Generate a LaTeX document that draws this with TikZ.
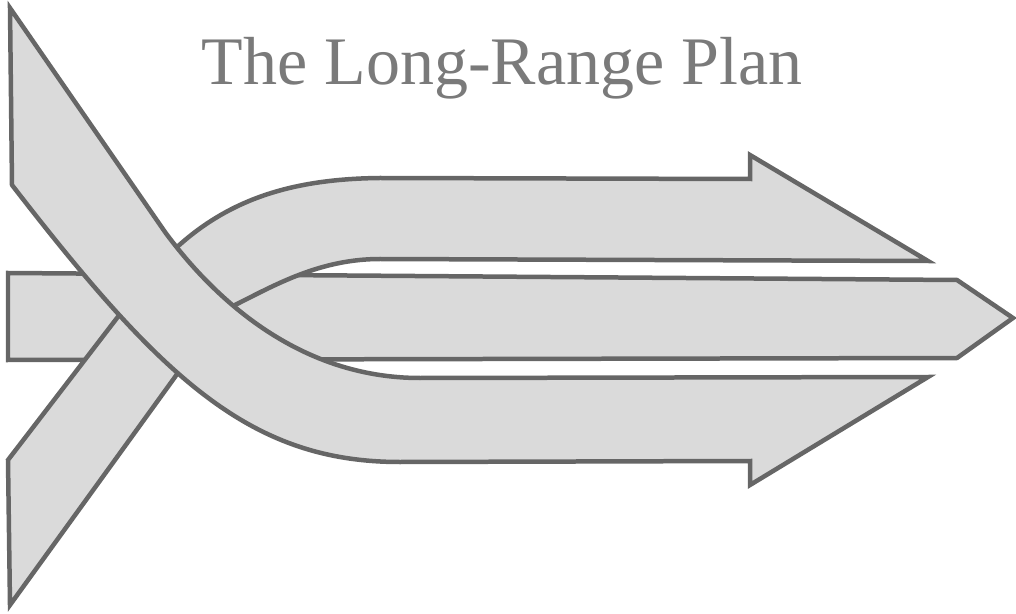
\documentclass[tikz,border=0pt]{standalone}
\usepackage{fontspec}
\setmainfont{Liberation Serif}
\definecolor{bandfill}{HTML}{DADADA}
\definecolor{bandline}{HTML}{666666}
\definecolor{titlegray}{HTML}{7A7A7A}
\begin{document}
\begin{tikzpicture}[x=0.02cm, y=-0.02cm,
        band/.style={fill=bandfill, draw=bandline, line width=0.09cm, line join=miter}]
        \useasboundingbox (0,0) rectangle (1016,614);

        % 标题
        \node[anchor=base, text=titlegray, inner sep=0pt,
              font=\fontsize{38.7}{40}\selectfont] (title) at (502,85) {The Long-Range Plan};

        % 中间的箭头
        \draw[band] (8,273) -- (957,280) -- (1013,318) -- (957,358) -- (8,360) -- cycle;

        % 上面的箭头 (从左下方来)
        \draw[band] (10,605) -- (175,377) .. controls (200,340) and (215,315) .. (235,305)
              .. controls (275,285) and (320,259) .. (380,259) -- (928,261)
              -- (750,155) -- (750,179) -- (380,178)
              .. controls (280,179) and (210,205) .. (150,275) -- (8,460) -- cycle;

        % 下面的箭头 (从左上方来)
        \draw[band] (10,8) -- (165,232) .. controls (215,300) and (300,378) .. (420,378)
              -- (928,377) -- (750,485) -- (750,461) -- (400,462)
              .. controls (250,462) and (162,379) .. (12,185) -- cycle;

    \end{tikzpicture}
\end{document}
